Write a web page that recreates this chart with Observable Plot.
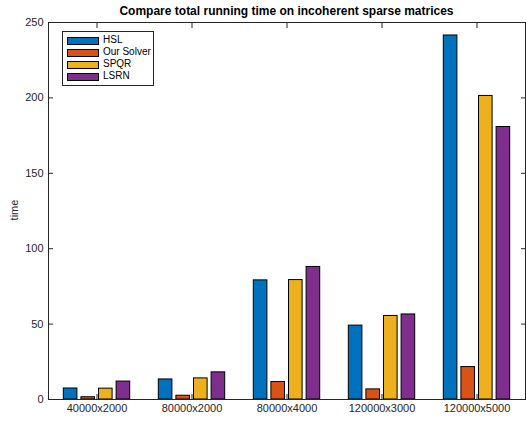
<!DOCTYPE html>
<html>
<head>
<meta charset="utf-8">
<script src="https://cdn.jsdelivr.net/npm/d3@7"></script>
<script src="https://cdn.jsdelivr.net/npm/@observablehq/plot@0.6"></script>
<style>
  body { margin: 0; background: #fff; font-family: "Liberation Sans", Arial, Helvetica, sans-serif; }
  #wrap { position: relative; width: 526px; height: 421px; }
  #title { position: absolute; left: 48px; width: 477px; top: 4px; text-align: center; font-weight: bold; font-size: 12px; color: #000; }
  #ylab { position: absolute; left: 14px; top: 210px; transform: translate(-50%, -50%) rotate(-90deg); font-size: 11px; color: #262626; }
  #legend { position: absolute; left: 62px; top: 31px; width: 92px; height: 55px; border: 1px solid #262626; background: #fff; box-sizing: border-box; }
  .row { position: absolute; left: 4px; height: 8px; font-size: 10px; color: #000; }
  .sw { position: absolute; left: 0; top: 0; width: 32px; height: 8px; border: 1px solid #000; box-sizing: border-box; }
  .lt { position: absolute; left: 36px; top: -3px; white-space: nowrap; line-height: 12px; }
</style>
</head>
<body>
<div id="wrap">
  <div id="chart"></div>
  <div id="title">Compare total running time on incoherent sparse matrices</div>
  <div id="ylab">time</div>
  <div id="legend"></div>
</div>
<script>
const categories = ["40000x2000", "80000x2000", "80000x4000", "120000x3000", "120000x5000"];
const seriesNames = ["HSL", "Our Solver", "SPQR", "LSRN"];
const seriesColors = ["#0072BD", "#D95319", "#EDB120", "#7E2F8E"];
const hsl = [7.3, 13.3, 79.0, 49.0, 241.4];
const ourSolver = [1.5, 2.5, 11.6, 6.7, 21.5];
const spqr = [7.2, 14.0, 79.2, 55.4, 201.3];
const lsrn = [11.9, 18.0, 87.9, 56.4, 180.7];
const yTicks = [0, 50, 100, 150, 200, 250];

const seriesValues = [hsl, ourSolver, spqr, lsrn];
const width = 526, height = 421;
const marginLeft = 48, marginRight = 1, marginTop = 22, marginBottom = 22;
const bandW = (width - marginLeft - marginRight) / categories.length;
const barW = 14, barStep = 17.6;

const barMarks = seriesNames.map((name, i) => {
  const data = categories.map((c, j) => ({category: c, value: seriesValues[i][j]}));
  return Plot.barY(data, {
    x: "category", y: "value",
    fill: seriesColors[i], stroke: "#000", strokeWidth: 1,
    insetLeft: (bandW - barW) / 2, insetRight: (bandW - barW) / 2,
    dx: (i - 1.5) * barStep
  });
});

const chart = Plot.plot({
  width, height, marginLeft, marginRight, marginTop, marginBottom,
  style: {fontFamily: "Liberation Sans, Arial, Helvetica, sans-serif", fontSize: "11px", color: "#262626", background: "#fff"},
  x: {type: "band", domain: categories, padding: 0, label: null},
  y: {domain: [0, 250], label: null},
  marks: [
    ...barMarks,
    Plot.frame({stroke: "#262626"}),
    Plot.axisY(yTicks, {anchor: "left", tickSize: -5, tickPadding: 10, label: null, fontSize: 11}),
    Plot.axisY(yTicks, {anchor: "right", tickSize: -5, tickFormat: () => "", label: null}),
    Plot.axisX(categories, {anchor: "bottom", tickSize: -5, tickPadding: 10, label: null, fontSize: 11}),
    Plot.axisX(categories, {anchor: "top", tickSize: -5, tickFormat: () => "", label: null})
  ]
});
document.getElementById("chart").appendChild(chart);

const legend = document.getElementById("legend");
seriesNames.forEach((name, i) => {
  const row = document.createElement("div");
  row.className = "row";
  row.style.top = (5 + i * 12) + "px";
  const sw = document.createElement("div");
  sw.className = "sw";
  sw.style.background = seriesColors[i];
  const t = document.createElement("div");
  t.className = "lt";
  t.textContent = name;
  row.appendChild(sw);
  row.appendChild(t);
  legend.appendChild(row);
});
</script>
</body>
</html>
